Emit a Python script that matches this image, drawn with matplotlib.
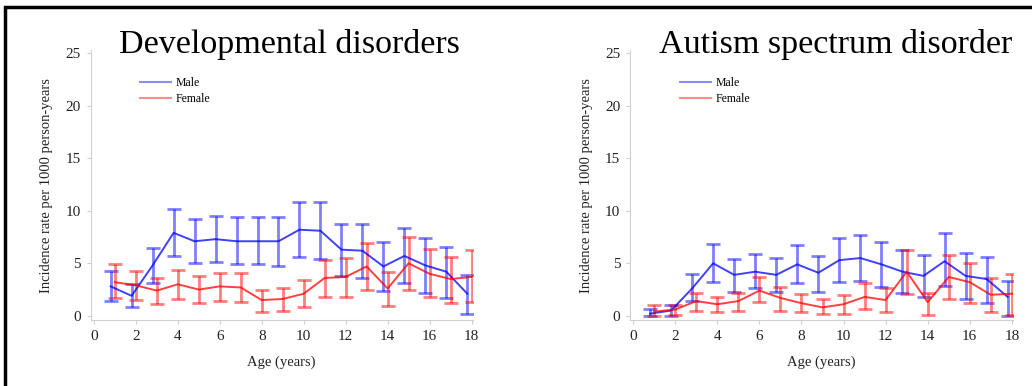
import numpy as np
import matplotlib
matplotlib.use('Agg')
import matplotlib.pyplot as plt
from matplotlib.patches import Rectangle
from matplotlib.lines import Line2D

plt.rcParams['font.family'] = ['Liberation Serif', 'DejaVu Serif']

# ==================== Data ====================
ages = np.arange(1, 19)
male_offset = -0.2   # male points sit a little left of each integer age

# Developmental disorders
dev_male = [2.8, 1.9, 4.8, 7.9, 7.1, 7.3, 7.1, 7.1, 7.1, 8.2, 8.1, 6.3, 6.2, 4.7, 5.7, 4.8, 4.2, 2.1]
dev_male_lo = [1.4, 0.8, 3.1, 5.7, 5.0, 5.1, 4.9, 4.9, 4.7, 5.6, 5.4, 3.8, 3.6, 2.4, 3.1, 2.2, 1.7, 0.2]
dev_male_hi = [4.3, 3.0, 6.5, 10.2, 9.2, 9.5, 9.4, 9.4, 9.4, 10.8, 10.8, 8.7, 8.7, 7.0, 8.4, 7.4, 6.6, 3.9]
dev_female = [3.2, 2.9, 2.4, 3.0, 2.5, 2.8, 2.7, 1.5, 1.6, 2.1, 3.6, 3.7, 4.7, 2.6, 5.0, 4.0, 3.5, 3.7]
dev_female_lo = [1.7, 1.5, 1.1, 1.6, 1.2, 1.4, 1.3, 0.4, 0.5, 0.8, 1.8, 1.8, 2.5, 0.9, 2.5, 1.8, 1.2, 1.3]
dev_female_hi = [4.9, 4.3, 3.6, 4.4, 3.8, 4.1, 4.1, 2.5, 2.6, 3.4, 5.3, 5.5, 6.9, 4.2, 7.5, 6.4, 5.6, 6.3]

# Autism spectrum disorder
asd_male = [0.2, 0.5, 2.6, 5.0, 3.9, 4.2, 3.9, 4.9, 4.1, 5.3, 5.5, 4.9, 4.2, 3.8, 5.2, 3.8, 3.5, 1.8]
asd_male_lo = [0.0, 0.0, 1.4, 3.2, 2.3, 2.6, 2.3, 3.1, 2.3, 3.2, 3.3, 2.7, 2.2, 1.8, 2.8, 1.6, 1.2, 0.0]
asd_male_hi = [0.6, 1.0, 4.0, 6.8, 5.4, 5.9, 5.5, 6.7, 5.7, 7.4, 7.7, 7.0, 6.3, 5.8, 7.9, 6.0, 5.6, 3.3]
asd_female = [0.4, 0.6, 1.4, 1.1, 1.4, 2.4, 1.7, 1.2, 0.8, 1.1, 1.8, 1.5, 4.2, 1.3, 3.7, 3.2, 2.0, 2.1]
asd_female_lo = [0.0, 0.1, 0.5, 0.4, 0.5, 1.3, 0.5, 0.4, 0.2, 0.2, 0.6, 0.4, 2.1, 0.1, 1.6, 1.2, 0.4, 0.1]
asd_female_hi = [1.0, 1.0, 2.2, 1.8, 2.2, 3.7, 2.7, 2.1, 1.6, 2.0, 3.1, 2.6, 6.3, 2.2, 5.8, 5.0, 3.6, 4.0]

panels = [
    ('Developmental disorders', dev_male, dev_male_lo, dev_male_hi,
     dev_female, dev_female_lo, dev_female_hi),
    ('Autism spectrum disorder', asd_male, asd_male_lo, asd_male_hi,
     asd_female, asd_female_lo, asd_female_hi),
]

BLUE = '#0000ff'
RED = '#ff0000'
SPINE = '#d0d0d0'
TEXT = '#222222'

fig = plt.figure(figsize=(10.32, 3.86), dpi=100)
axes = [fig.add_axes([0.0879, 0.171, 0.370, 0.699]),
        fig.add_axes([0.6105, 0.171, 0.371, 0.699])]
title_x = [0.52, 0.538]


def draw_series(ax, x, y, lo, hi, color):
    y = np.asarray(y)
    err = [y - np.asarray(lo), np.asarray(hi) - y]
    ax.errorbar(x, y, yerr=err, fmt='none', ecolor=color, elinewidth=2,
                capsize=5, capthick=2, alpha=0.5, zorder=2)
    ax.plot(x, y, color=color, lw=1.4, alpha=0.75, zorder=3)


for ax, panel, tx in zip(axes, panels, title_x):
    title, m, m_lo, m_hi, f, f_lo, f_hi = panel
    draw_series(ax, ages + male_offset, m, m_lo, m_hi, BLUE)
    draw_series(ax, ages, f, f_lo, f_hi, RED)

    ax.set_xlim(-0.15, 18.05)
    ax.set_ylim(-0.4, 25.3)
    ax.set_xticks(range(0, 19, 2))
    ax.set_yticks(range(0, 26, 5))
    for side in ['top', 'right']:
        ax.spines[side].set_visible(False)
    for side in ['left', 'bottom']:
        ax.spines[side].set_color(SPINE)
        ax.spines[side].set_linewidth(0.8)
    ax.tick_params(direction='out', length=3, width=0.8, color=SPINE,
                   labelsize=11, labelcolor=TEXT, pad=4)
    ax.set_xlabel('Age (years)', fontsize=10.5, color=TEXT, labelpad=9)
    ax.set_ylabel('Incidence rate per 1000 person-years', fontsize=10.5,
                  color=TEXT, labelpad=9)
    ax.text(tx, 0.99, title, transform=ax.transAxes, ha='center',
            va='baseline', fontsize=24.5, color='black')

    handles = [Line2D([], [], color=BLUE, lw=1.5, alpha=0.45),
               Line2D([], [], color=RED, lw=1.5, alpha=0.45)]
    ax.legend(handles, ['Male', 'Female'], loc='upper left',
              bbox_to_anchor=(0.13, 0.9), frameon=False, fontsize=8.5,
              handlelength=2.6, handletextpad=0.4, labelspacing=0.3,
              borderpad=0, borderaxespad=0)

# black frame on the top and left of the figure
fig.add_artist(Rectangle((0.0045, -0.1), 2.0, 1.082, transform=fig.transFigure,
                         fill=False, edgecolor='black', lw=2.5))

fig.savefig('out.png', dpi=100)
